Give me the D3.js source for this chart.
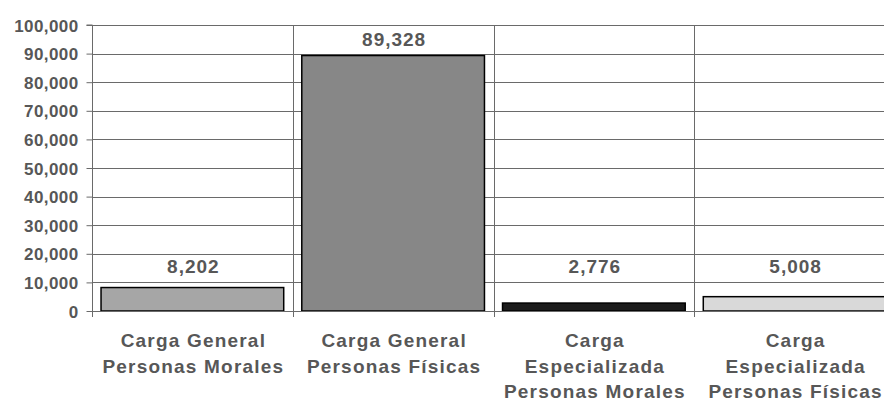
<!DOCTYPE html>
<html>
<head>
<meta charset="utf-8">
<script src="https://cdn.jsdelivr.net/npm/d3@7/dist/d3.min.js"></script>
<style>
  html, body { margin: 0; padding: 0; background: #fff; overflow: hidden; }
  svg { display: block; }
  text { font-family: "Liberation Sans", Arial, sans-serif; font-weight: bold; fill: #575757; }
</style>
</head>
<body>
<script>
const categories = [
  ["Carga General", "Personas Morales"],
  ["Carga General", "Personas Físicas"],
  ["Carga", "Especializada", "Personas Morales"],
  ["Carga", "Especializada", "Personas Físicas"]
];
const values = [8202, 89328, 2776, 5008];
const barColors = ["#a6a6a6", "#878787", "#1c1c1c", "#d9d9d9"];
const yTicks = [0, 10000, 20000, 30000, 40000, 50000, 60000, 70000, 80000, 90000, 100000];

(function () {
const W = 884, H = 401;
const mLeft = 92, mRight = 895, mTop = 25, mBottom = 311;

const svg = d3.select("body").append("svg").attr("width", W).attr("height", H);

const keys = categories.map((c, i) => i);
const x = d3.scaleBand().domain(keys).range([mLeft, mRight]).paddingInner(0.09).paddingOuter(0.045);
const step = x.step();
const y = d3.scaleLinear().domain([0, 100000]).range([mBottom, mTop]);
const fmt = d3.format(",");

// horizontal gridlines
svg.append("g").selectAll("line").data(yTicks.filter(t => t > 0)).join("line")
  .attr("x1", mLeft).attr("x2", mRight)
  .attr("y1", d => Math.round(y(d)) + 0.5).attr("y2", d => Math.round(y(d)) + 0.5)
  .attr("stroke", "#6a6a6a").attr("stroke-width", 1);

// vertical category separators (with tick below axis)
const seps = keys.map(k => x(k) - step * 0.045).concat([x(keys[keys.length - 1]) - step * 0.045 + step]);
svg.append("g").selectAll("line").data(seps).join("line")
  .attr("x1", d => Math.round(d) + 0.5).attr("x2", d => Math.round(d) + 0.5)
  .attr("y1", mTop).attr("y2", mBottom + 6)
  .attr("stroke", "#6a6a6a").attr("stroke-width", 1);

// bars
svg.append("g").selectAll("rect").data(values).join("rect")
  .attr("x", (d, i) => x(i))
  .attr("width", x.bandwidth())
  .attr("y", d => y(d))
  .attr("height", d => y(0) - y(d))
  .attr("fill", (d, i) => barColors[i])
  .attr("stroke", "#000").attr("stroke-width", 1.5);

// y axis
const yAxis = d3.axisLeft(y).tickValues(yTicks).tickFormat(fmt).tickSize(6).tickPadding(8);
const ga = svg.append("g").attr("transform", `translate(${mLeft + 0.5},0)`).call(yAxis);
ga.attr("font-family", null).attr("font-size", null);
ga.select(".domain").attr("stroke", "#6a6a6a").attr("d", `M-6,${mTop}H0V${mBottom + 6}`);
ga.selectAll(".tick line").attr("stroke", "#6a6a6a");
ga.selectAll(".tick text").attr("font-size", 17).style("letter-spacing", "0.4px")
  .attr("dy", "0.36em").attr("fill", "#575757");

// baseline
svg.append("line").attr("x1", mLeft).attr("x2", mRight)
  .attr("y1", Math.round(y(0)) + 0.5).attr("y2", Math.round(y(0)) + 0.5)
  .attr("stroke", "#6a6a6a");

// value labels
svg.append("g").selectAll("text").data(values).join("text")
  .attr("x", (d, i) => x(i) + x.bandwidth() / 2 + 1)
  .attr("y", d => Math.min(y(d) - 10, y(0) - 38))
  .attr("text-anchor", "middle")
  .attr("font-size", 19).style("letter-spacing", "1px")
  .text(d => fmt(d));

// category labels
const cg = svg.append("g");
categories.forEach((lines, i) => {
  const cx = x(i) + x.bandwidth() / 2 + 1;
  const t = cg.append("text")
    .attr("x", cx)
    .attr("y", 347)
    .attr("text-anchor", "middle")
    .attr("font-size", 19).style("letter-spacing", "1.2px");
  lines.forEach((ln, j) => {
    t.append("tspan").attr("x", cx).attr("dy", j === 0 ? 0 : 25.5).text(ln);
  });
});
})();
</script>
</body>
</html>
